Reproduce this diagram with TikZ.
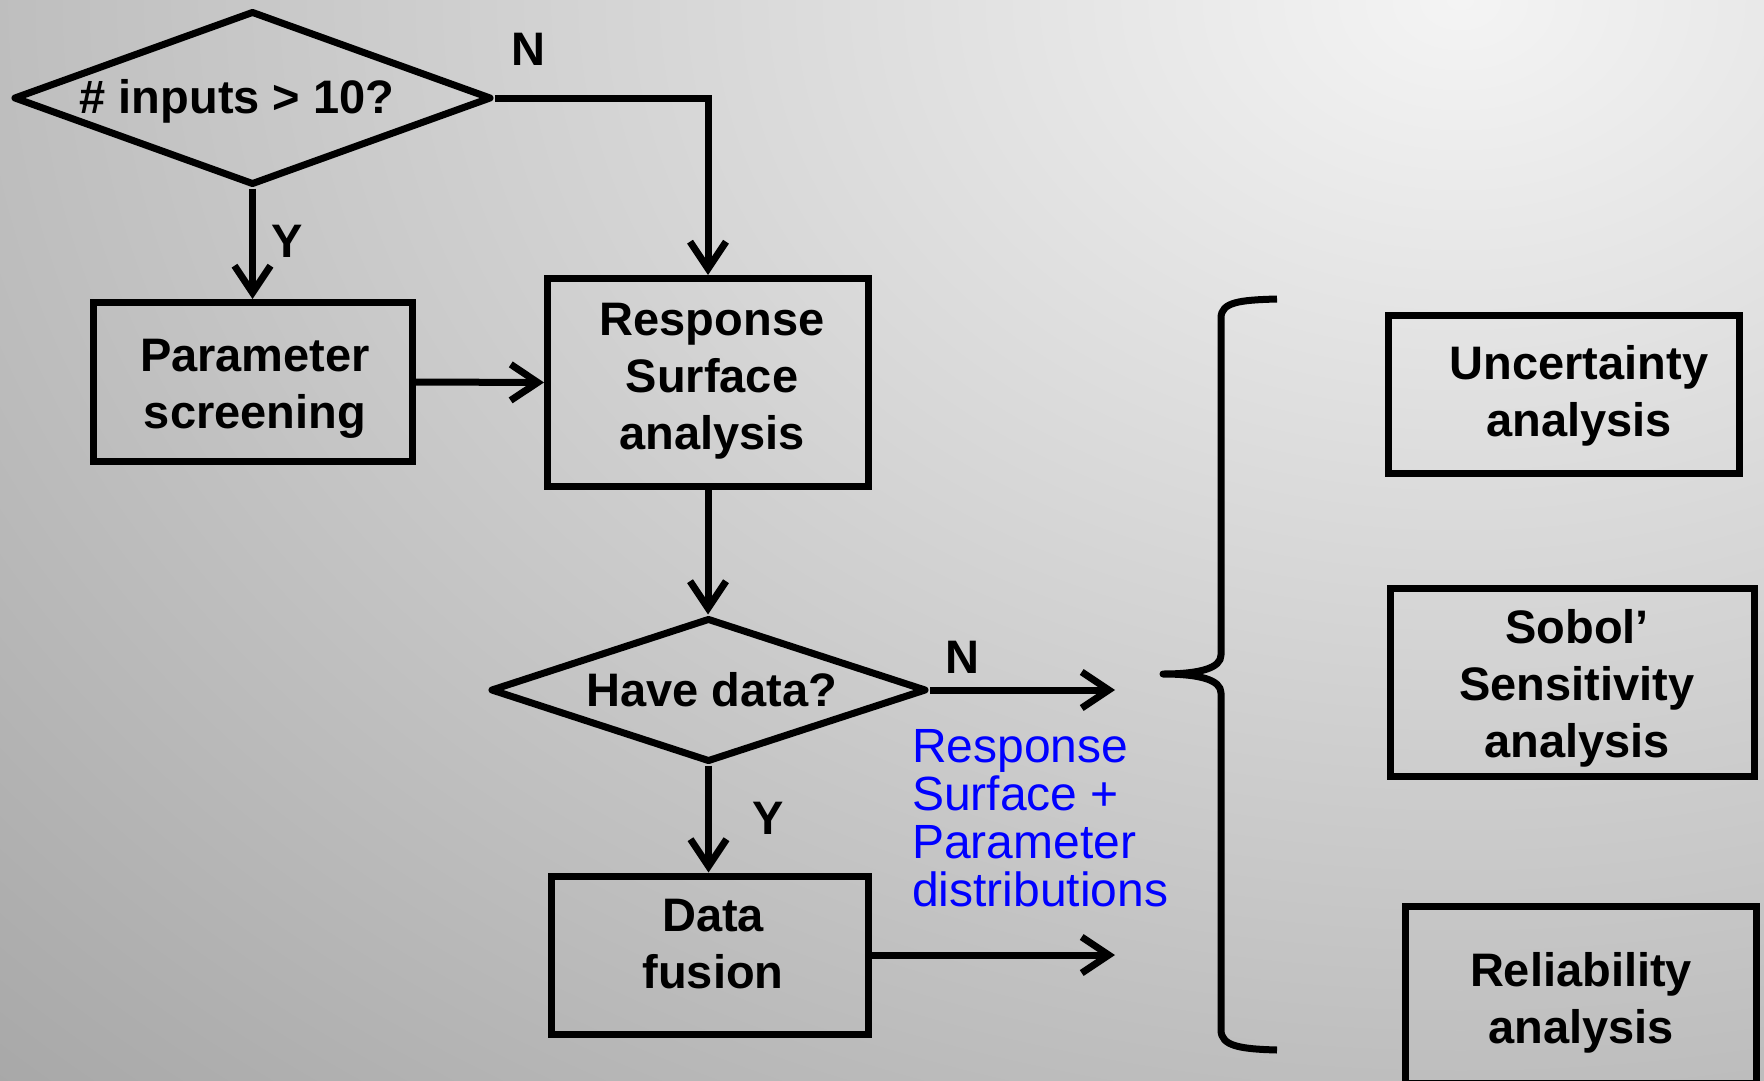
\documentclass[tikz,border=0pt]{standalone}
\usepackage{fontspec}
\setmainfont{Liberation Sans}
\usetikzlibrary{arrows.meta,shapes.geometric}
\definecolor{bgA}{RGB}{244,244,244}
\definecolor{bgB}{RGB}{174,174,174}
\definecolor{bgC}{RGB}{110,110,110}
\definecolor{bluetxt}{RGB}{0,0,255}
\pgfdeclareradialshading{bgshade}{\pgfpoint{0bp}{0bp}}{color(0bp)=(bgA); color(25bp)=(bgB); color(50bp)=(bgC)}
\newcommand{\bst}{\rule[-10pt]{0pt}{55pt}}
\newcommand{\blst}{\rule[-10pt]{0pt}{47pt}}
\begin{document}
\begin{tikzpicture}[x=1pt,y=-1pt,
  txt/.style={font=\fontsize{47}{57}\selectfont\bfseries, inner sep=0pt, align=center},
  box/.style={draw, line width=7pt, rectangle, inner sep=0pt},
  dia/.style={draw, diamond, line width=7pt, line join=round, inner sep=0pt},
  arr/.style={line width=7pt, -{Straight Barb[length=27pt,width=36pt]}},
  lab/.style={font=\fontsize{47}{57}\selectfont\bfseries, inner sep=0pt}]
\begin{scope}
\clip (0,0) rectangle (1764,1081);
\shade[shading=bgshade] (-440,-1400) rectangle (3360,1400);
\end{scope}
\useasboundingbox (0,0) rectangle (1764,1081);

\node[dia, minimum width=478pt, minimum height=174pt,
  label={[txt,xshift=-15.5pt,yshift=2.5pt]center:{\bst\# inputs > 10?}}] (d1) at (252.5,98) {};
\node[box, minimum width=319pt, minimum height=159pt,
  label={[txt,xshift=2pt]center:{\bst Parameter\\\bst screening}}] (ps) at (253,382) {};
\node[box, minimum width=321pt, minimum height=208pt,
  label={[txt,xshift=4pt,yshift=7.5pt]center:{\bst Response\\\bst Surface\\\bst analysis}}] (rs) at (708,382.5) {};
\node[dia, minimum width=436pt, minimum height=144pt,
  label={[txt,xshift=3.5pt,yshift=1.5pt]center:{\bst Have data?}}] (d2) at (708.5,690) {};
\node[box, minimum width=317pt, minimum height=158pt,
  label={[txt,xshift=3pt,yshift=13pt]center:{\bst Data\\\bst fusion}}] (df) at (710,955) {};
\node[box, minimum width=351pt, minimum height=158pt,
  label={[txt,xshift=15pt,yshift=4.5pt]center:{\bst Uncertainty\\\bst analysis}}] (ua) at (1564,394.5) {};
\node[box, minimum width=364pt, minimum height=188pt,
  label={[txt,xshift=4.5pt]center:{\bst Sobol’\\\bst Sensitivity\\\bst analysis}}] (sa) at (1572.5,682.5) {};
\node[box, minimum width=351pt, minimum height=176.5pt,
  label={[txt,yshift=-2.75pt]center:{\bst Reliability\\\bst analysis}}] (ra) at (1581,994.75) {};

\node[lab] (n1) at (528,49) {N};
\node[lab] (y1) at (287,241) {Y};
\node[lab] (n2) at (962,657) {N};
\node[lab] (y2) at (768,818) {Y};

\node[font=\fontsize{48}{48}\selectfont, text=bluetxt, align=left, anchor=west, inner sep=0pt] (bt) at (912,820.5)
  {\blst Response\\\blst Surface +\\\blst Parameter\\\blst distributions};

\coordinate (e1) at (1115,690);
\coordinate (e2) at (1115,955);

\draw[arr] (d1.east) -| (rs.north);
\draw[arr] (d1.south) -- (d1.south |- ps.north);
\draw[arr] (ps.east) -- (rs.west);
\draw[arr] (rs.south) -- (rs.south |- d2.north);
\draw[arr] (d2.east) -- (e1);
\draw[arr] (d2.south) -- (d2.south |- df.north);
\draw[arr] (df.east) -- (e2);

\draw[line width=7pt, line join=round]
  (1277,299) .. controls (1240,300) and (1221,302) .. (1221,318)
  -- (1221,655) .. controls (1221,668) and (1200,674) .. (1163,674)
  .. controls (1200,674) and (1221,680) .. (1221,693)
  -- (1221,1030) .. controls (1221,1046) and (1240,1049) .. (1277,1050);
\end{tikzpicture}
\end{document}
